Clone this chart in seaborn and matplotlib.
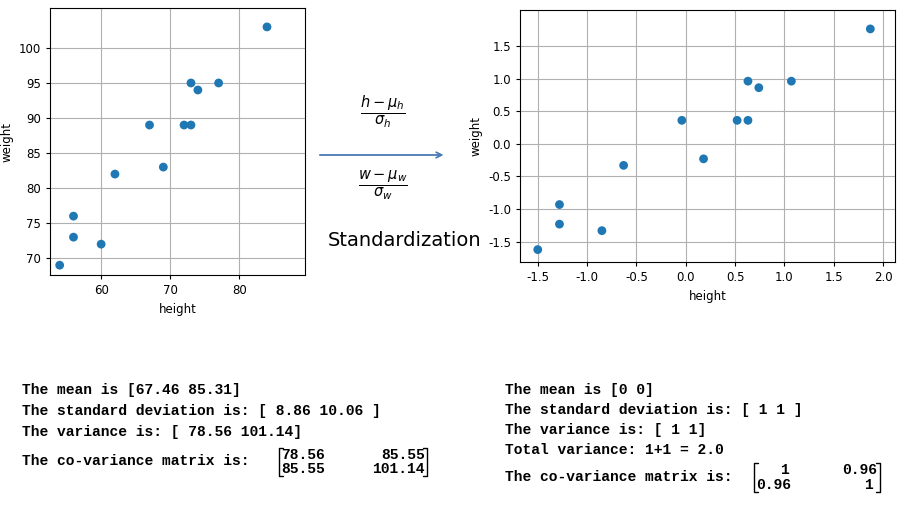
import matplotlib
matplotlib.use("Agg")
import matplotlib.pyplot as plt
import seaborn as sns
import pandas as pd
from matplotlib.lines import Line2D

sns.set_style("whitegrid", {"grid.color": "#b0b0b0", "axes.edgecolor": "black"})
plt.rcParams['font.family'] = ['DejaVu Sans']
plt.rcParams['axes.unicode_minus'] = False
plt.rcParams['text.color'] = 'black'
plt.rcParams['axes.labelcolor'] = 'black'
plt.rcParams['xtick.color'] = 'black'
plt.rcParams['ytick.color'] = 'black'

# raw data
height = [54, 56, 56, 60, 62, 67, 69, 72, 73, 73, 74, 77, 84]
weight = [69, 73, 76, 72, 82, 89, 83, 89, 89, 95, 94, 95, 103]
# standardized data
height_std = [-1.50, -1.28, -1.28, -0.85, -0.63, -0.04, 0.18, 0.52, 0.63, 0.63, 0.74, 1.07, 1.87]
weight_std = [-1.62, -1.23, -0.93, -1.33, -0.33, 0.36, -0.23, 0.36, 0.36, 0.96, 0.86, 0.96, 1.76]

raw = pd.DataFrame({'height': height, 'weight': weight})
std = pd.DataFrame({'height': height_std, 'weight': weight_std})

W, H = 914, 507
fig = plt.figure(figsize=(W / 100, H / 100), dpi=100)

def box(x0, y0, x1, y1):
    return [x0 / W, 1 - y1 / H, (x1 - x0) / W, (y1 - y0) / H]

ax1 = fig.add_axes(box(50, 8, 305, 275))
sns.scatterplot(data=raw, x='height', y='weight', ax=ax1, color='#1f77b4', s=40, edgecolor='none')
ax1.set_xlim(52.6, 89.5)
ax1.set_ylim(67.6, 105.7)
ax1.set_xticks([60, 70, 80])
ax1.set_yticks([70, 75, 80, 85, 90, 95, 100])

ax2 = fig.add_axes(box(520, 10, 895, 262))
sns.scatterplot(data=std, x='height', y='weight', ax=ax2, color='#1f77b4', s=40, edgecolor='none')
ax2.set_xlim(-1.68, 2.12)
ax2.set_ylim(-1.81, 2.05)
ax2.set_xticks([-1.5, -1.0, -0.5, 0.0, 0.5, 1.0, 1.5, 2.0])
ax2.set_yticks([-1.5, -1.0, -0.5, 0.0, 0.5, 1.0, 1.5])

for ax in (ax1, ax2):
    ax.tick_params(labelsize=8.5, length=3, left=True, bottom=True)
    ax.xaxis.label.set_size(8.5)
    ax.yaxis.label.set_size(8.5)
    for s in ax.spines.values():
        s.set_linewidth(0.8)

# arrow and formulas
fig.add_artist(plt.annotate('', xy=(446 / W, 1 - 155 / H), xytext=(317 / W, 1 - 155 / H),
                            xycoords='figure fraction',
                            arrowprops=dict(arrowstyle='->', color='#4a7ab5', lw=1)))
fig.text(383 / W, 1 - 112 / H, r'$\frac{h-\mu_h}{\sigma_h}$', fontsize=15, ha='center', va='center')
fig.text(383 / W, 1 - 185 / H, r'$\frac{w-\mu_w}{\sigma_w}$', fontsize=15, ha='center', va='center')
fig.text(405 / W, 1 - 241 / H, 'Standardization', fontsize=14, ha='center', va='center')

mono = dict(family='Liberation Mono', weight='bold', fontsize=10.5, va='center')
left_lines = [('The mean is [67.46 85.31]', 390),
              ('The standard deviation is: [ 8.86 10.06 ]', 411),
              ('The variance is: [ 78.56 101.14]', 432),
              ('The co-variance matrix is:', 461)]
for t, y in left_lines:
    fig.text(22 / W, 1 - y / H, t, **mono)
right_lines = [('The mean is [0 0]', 390),
               ('The standard deviation is: [ 1 1 ]', 410),
               ('The variance is: [ 1 1]', 430),
               ('Total variance: 1+1 = 2.0', 450),
               ('The co-variance matrix is:', 477)]
for t, y in right_lines:
    fig.text(505 / W, 1 - y / H, t, **mono)

def matrix(x0, x1, y0, y1, cells):
    for xa, xb in ((x0, x0 + 4), (x1, x1 - 4)):
        fig.add_artist(Line2D([xb / W, xa / W, xa / W, xb / W],
                              [1 - y0 / H, 1 - y0 / H, 1 - y1 / H, 1 - y1 / H],
                              color='black', lw=1))
    for t, x, y, ha in cells:
        fig.text(x / W, 1 - y / H, t, family='Liberation Mono', weight='bold',
                 fontsize=10.5, ha=ha, va='center')

matrix(279, 427, 448, 476, [('78.56', 281, 455, 'left'), ('85.55', 425, 455, 'right'),
                            ('85.55', 281, 469, 'left'), ('101.14', 425, 469, 'right')])
matrix(754, 880, 463, 492, [('1', 784, 470, 'center'), ('0.96', 877, 470, 'right'),
                            ('0.96', 756, 485, 'left'), ('1', 868, 485, 'center')])

fig.savefig('out.png', dpi=100)
